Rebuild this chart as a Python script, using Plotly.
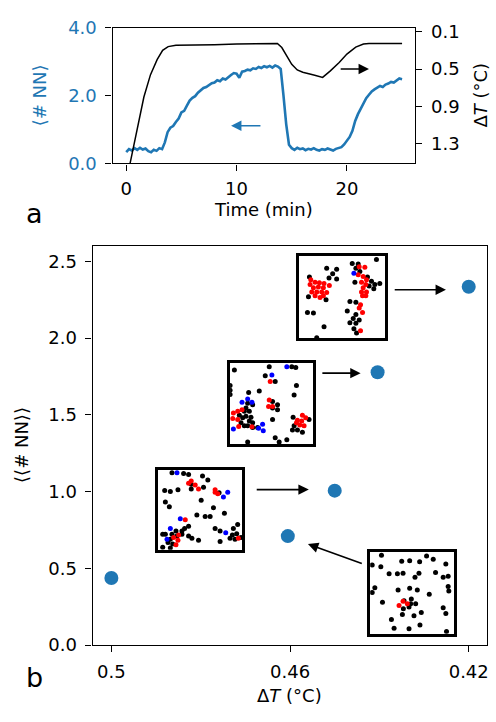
import plotly.graph_objects as go

W, H = 496, 722
BLUE = "#1f77b4"
FONT = "DejaVu Sans"

# ---------------- panel a data ----------------
time_min = [0.0, 0.25, 0.5, 0.75, 1.0, 1.25, 1.5, 1.75, 2.0, 2.25, 2.5, 2.75, 3.0, 3.25, 3.5, 3.75,
            4.0, 4.25, 4.5, 4.75, 5.0, 5.25, 5.5, 5.75, 6.0, 6.25, 6.5, 6.75, 7.0, 7.25, 7.5, 7.75,
            8.0, 8.25, 8.5, 8.75, 9.0, 9.25, 9.5, 9.75, 10.0, 10.25, 10.5, 10.75, 11.0, 11.25, 11.5,
            11.75, 12.0, 12.25, 12.5, 12.75, 13.0, 13.25, 13.5, 13.75, 14.0, 14.25, 14.5, 14.75,
            15.0, 15.25, 15.5, 15.75, 16.0, 16.25, 16.5, 16.75, 17.0, 17.25, 17.5, 17.75, 18.0,
            18.25, 18.5, 18.75, 19.0, 19.25, 19.5, 19.75, 20.0, 20.25, 20.5, 20.75, 21.0, 21.25,
            21.5, 21.75, 22.0, 22.25, 22.5, 22.75, 23.0, 23.25, 23.5, 23.75, 24.0, 24.25, 24.5,
            24.75, 25.0]
nn_mean = [0.33, 0.42, 0.38, 0.45, 0.40, 0.46, 0.41, 0.44, 0.36, 0.33, 0.40, 0.37, 0.45, 0.42, 0.62,
           0.92, 1.05, 1.10, 1.22, 1.32, 1.50, 1.55, 1.70, 1.85, 1.93, 1.98, 2.08, 2.15, 2.22, 2.25,
           2.30, 2.36, 2.38, 2.45, 2.42, 2.50, 2.47, 2.55, 2.60, 2.66, 2.64, 2.52, 2.70, 2.72, 2.76,
           2.74, 2.80, 2.78, 2.84, 2.81, 2.86, 2.83, 2.87, 2.82, 2.88, 2.85, 2.78, 2.00, 1.15, 0.55,
           0.45, 0.40, 0.46, 0.42, 0.44, 0.39, 0.43, 0.41, 0.45, 0.40, 0.38, 0.42, 0.40, 0.44, 0.41,
           0.38, 0.43, 0.45, 0.48, 0.56, 0.66, 0.78, 0.96, 1.25, 1.45, 1.62, 1.76, 1.92, 2.02, 2.12,
           2.18, 2.22, 2.28, 2.25, 2.32, 2.35, 2.40, 2.38, 2.45, 2.50, 2.48]

dT_time = [0.35, 1.0, 1.6, 2.2, 2.8, 3.3, 3.8, 4.5, 6.0, 8.0, 10.0, 12.0, 13.7, 14.1, 14.5, 15.0,
           15.5, 16.0, 17.0, 17.8, 18.5, 19.3, 20.0, 20.8, 21.5, 22.0, 25.0]
dT_value = [1.51, 1.13, 0.80, 0.56, 0.40, 0.30, 0.26, 0.245, 0.245, 0.24, 0.232, 0.226, 0.226, 0.27,
            0.35, 0.45, 0.51, 0.535, 0.565, 0.59, 0.52, 0.43, 0.34, 0.265, 0.232, 0.226, 0.226]

time_ticks = [0, 10, 20]
nn_ticks = [0.0, 2.0, 4.0]
dT_ticks = [0.1, 0.5, 0.9, 1.3]

# ---------------- panel b data ----------------
b_dT = [0.5, 0.4605, 0.450, 0.4404, 0.420]
b_nn = [0.437, 0.71, 1.006, 1.778, 2.335]
b_xticks = [0.5, 0.46, 0.42]
b_xticklabels = ["0.5", "0.46", "0.42"]
b_yticks = [0.0, 0.5, 1.0, 1.5, 2.0, 2.5]

# ---------------- inset particle configurations (image coords) ----------------
inset1_black = [(240, 18), (90, 45), (120, 48), (108, 62), (97, 75), (120, 78), (38, 72), (35, 133),
                (88, 142), (167, 30), (185, 32), (178, 45), (190, 55), (175, 88), (213, 72), (225, 85),
                (235, 95), (250, 92), (218, 100), (232, 108), (160, 148), (178, 150), (152, 177),
                (178, 188), (170, 200), (188, 205), (178, 215), (160, 213), (172, 232), (180, 245),
                (32, 182), (50, 183), (82, 226), (60, 260)]
inset1_red = [(42, 80), (40, 95), (55, 88), (68, 90), (82, 92), (98, 98), (50, 105), (65, 103),
              (80, 105), (45, 118), (60, 118), (75, 118), (90, 120), (55, 130), (70, 135), (80, 130),
              (188, 40), (205, 42), (185, 65), (200, 70), (210, 80), (195, 88), (208, 95), (200, 105),
              (195, 118), (210, 118), (198, 130), (208, 130), (192, 158), (198, 182), (188, 168),
              (192, 238)]
inset1_blue = [(172, 60)]

inset2_black = [(25, 32), (130, 22), (198, 22), (210, 25), (12, 80), (12, 95), (12, 108), (68, 102),
                (100, 97), (212, 80), (205, 110), (118, 50), (148, 68), (140, 130), (155, 140),
                (140, 150), (155, 155), (80, 140), (65, 135), (60, 150), (55, 160), (70, 160),
                (40, 172), (60, 175), (75, 178), (70, 190), (45, 195), (55, 205), (80, 195), (50, 180),
                (65, 205), (80, 210), (95, 210), (140, 185), (202, 178), (250, 185), (205, 205),
                (200, 218), (215, 218), (230, 225), (148, 242), (160, 255), (183, 248), (65, 255)]
inset2_red = [(133, 68), (130, 125), (128, 145), (140, 145), (22, 165), (35, 160), (48, 155),
              (20, 182), (35, 185), (38, 207), (78, 208), (230, 172), (240, 180), (215, 188),
              (228, 190), (222, 202), (235, 205), (212, 195)]
inset2_blue = [(183, 22), (138, 48), (48, 132), (65, 122), (78, 132), (22, 215), (110, 200), (98, 212),
               (112, 220)]

inset3_black = [(50, 20), (85, 22), (100, 25), (142, 30), (158, 42), (145, 65), (108, 55), (108, 70),
                (28, 75), (45, 78), (68, 72), (30, 110), (42, 125), (138, 105), (192, 82), (175, 128),
                (208, 145), (125, 150), (150, 155), (165, 155), (180, 192), (195, 200), (130, 228),
                (195, 232), (100, 185), (88, 192), (80, 200), (62, 200), (50, 210), (65, 215),
                (80, 210), (100, 215), (110, 222), (45, 225), (30, 210), (22, 210), (38, 235),
                (52, 240), (22, 250), (45, 252), (248, 180), (235, 192), (245, 208), (232, 212),
                (225, 222), (240, 225), (258, 220)]
inset3_red = [(108, 45), (120, 58), (100, 52), (130, 70), (180, 72), (188, 85), (180, 80), (90, 165),
              (70, 212), (68, 228), (62, 242), (55, 220), (250, 222)]
inset3_blue = [(65, 20), (218, 80), (205, 95), (75, 162), (45, 192), (35, 225), (212, 205)]

inset4_black = [(42, 20), (178, 22), (198, 32), (103, 38), (127, 37), (157, 40), (236, 47), (14, 50),
                (40, 55), (65, 77), (90, 77), (107, 75), (155, 75), (143, 88), (205, 73), (228, 88),
                (243, 85), (22, 120), (14, 135), (92, 127), (127, 122), (150, 127), (186, 140),
                (243, 116), (245, 130), (132, 155), (110, 160), (130, 170), (145, 170), (108, 185),
                (125, 180), (45, 165), (228, 182), (236, 200), (162, 197), (140, 207), (105, 203),
                (72, 218), (158, 235), (125, 247), (80, 245), (238, 255)]
inset4_red = [(95, 175), (107, 162), (120, 170)]
inset4_blue = []

insets = [
    (inset1_black, inset1_red, inset1_blue, (300.7, 386.3, 252.7, 337.3), (8, 265, 8, 262)),
    (inset2_black, inset2_red, inset2_blue, (231.0, 314.3, 362.3, 446.3), (12, 262, 10, 262)),
    (inset3_black, inset3_red, inset3_blue, (158.7, 243.3, 472.3, 555.0), (8, 262, 10, 258)),
    (inset4_black, inset4_red, inset4_blue, (371.7, 456.3, 557.3, 641.3), (8, 262, 10, 262)),
]


def px_dom_x(a, b):
    return [a / W, b / W]


def px_dom_y(top, bottom):
    return [1 - bottom / H, 1 - top / H]


fig = go.Figure()

fig.add_trace(go.Scatter(x=dT_time, y=dT_value, mode="lines", line=dict(color="black", width=1.5),
                         xaxis="x", yaxis="y2", showlegend=False))
fig.add_trace(go.Scatter(x=time_min, y=nn_mean, mode="lines", line=dict(color=BLUE, width=2.6),
                         xaxis="x", yaxis="y", showlegend=False))
fig.add_trace(go.Scatter(x=b_dT, y=b_nn, mode="markers", marker=dict(color=BLUE, size=14),
                         xaxis="x2", yaxis="y3", showlegend=False))

axis_common = dict(showline=True, linecolor="black", linewidth=1.3, mirror=True, ticks="outside",
                   ticklen=6, tickwidth=1.3, tickcolor="black", showgrid=False, zeroline=False,
                   tickfont=dict(family=FONT, size=18, color="black"))

layout = dict(
    width=W, height=H, margin=dict(l=0, r=0, t=0, b=0),
    paper_bgcolor="white", plot_bgcolor="white", showlegend=False,
    font=dict(family=FONT, size=18, color="black"),
    xaxis=dict(axis_common, domain=px_dom_x(113, 417), anchor="y", range=[-1.24, 26.2],
               tickvals=time_ticks, ticklabelstandoff=3),
    yaxis=dict(axis_common, domain=px_dom_y(17, 157), anchor="x", range=[0, 4],
               tickvals=nn_ticks, ticktext=["%.1f" % v for v in nn_ticks], ticklabelstandoff=5,
               tickfont=dict(family=FONT, size=18, color=BLUE)),
    yaxis2=dict(axis_common, overlaying="y", side="right", anchor="x", range=[1.511, 0.0553],
                tickvals=dT_ticks, ticktext=["%.1f" % v for v in dT_ticks], mirror=False,
                ticklabelstandoff=5),
    xaxis2=dict(axis_common, domain=px_dom_x(93, 489), anchor="y3", range=[0.5042, 0.4159],
                tickvals=b_xticks, ticktext=b_xticklabels, ticklabelstandoff=4),
    yaxis3=dict(axis_common, domain=px_dom_y(242, 653), anchor="x2", range=[0, 2.601],
                tickvals=b_yticks, ticktext=["%.1f" % v for v in b_yticks], ticklabelstandoff=5),
)

for i, (blk, red, blu, box, rng) in enumerate(insets):
    xa = "xaxis%d" % (i + 3)
    ya = "yaxis%d" % (i + 4)
    xr = "x%d" % (i + 3)
    yr = "y%d" % (i + 4)
    layout[xa] = dict(domain=px_dom_x(box[0], box[1]), anchor=yr, range=[rng[0], rng[1]],
                      showline=True, mirror=True, linecolor="black", linewidth=3,
                      showticklabels=False, ticks="", showgrid=False, zeroline=False)
    layout[ya] = dict(domain=px_dom_y(box[2], box[3]), anchor=xr, range=[rng[3], rng[2]],
                      showline=True, mirror=True, linecolor="black", linewidth=3,
                      showticklabels=False, ticks="", showgrid=False, zeroline=False)
    for pts, col in ((blk, "black"), (red, "red"), (blu, "blue")):
        if not pts:
            continue
        fig.add_trace(go.Scatter(x=[p[0] for p in pts], y=[p[1] for p in pts], mode="markers",
                                 marker=dict(color=col, size=5), xaxis=xr, yaxis=yr,
                                 showlegend=False, cliponaxis=True))

fig.update_layout(**layout)


def label(text, px, py, size=18, color="black", angle=0):
    return dict(text=text, x=px / W, y=1 - py / H, xref="paper", yref="paper",
                xanchor="center", yanchor="middle", textangle=angle, showarrow=False,
                font=dict(family=FONT, size=size, color=color))


ann = [
    label("⟨# NN⟩", 40, 87, color=BLUE, angle=-90),
    label("Δ<i>T</i> (°C)", 482, 87, angle=-90),
    label("Time (min)", 265, 204),
    label("a", 35, 209, size=27),
    label("⟨⟨# NN⟩⟩", 22, 447, angle=-90),
    label("Δ<i>T</i> (°C)", 291, 705),
    label("b", 35, 686, size=27),
]

ann.append(dict(x=22.0, y=0.5, ax=19.3, ay=0.5, xref="x", yref="y2", axref="x", ayref="y2",
                showarrow=True, arrowhead=2, arrowsize=1.3, arrowwidth=1.6, arrowcolor="black", text=""))
ann.append(dict(x=9.5, y=1.11, ax=12.3, ay=1.11, xref="x", yref="y", axref="x", ayref="y",
                showarrow=True, arrowhead=2, arrowsize=1.3, arrowwidth=1.6, arrowcolor=BLUE, text=""))
for (hx, hy, tx, ty) in [(0.4251, 2.316, 0.4369, 2.316), (0.4442, 1.772, 0.4531, 1.772),
                         (0.4558, 1.013, 0.4678, 1.013), (0.4560, 0.658, 0.4436, 0.528)]:
    ann.append(dict(x=hx, y=hy, ax=tx, ay=ty, xref="x2", yref="y3", axref="x2", ayref="y3",
                    showarrow=True, arrowhead=2, arrowsize=1.3, arrowwidth=1.6, arrowcolor="black",
                    text=""))

fig.update_layout(annotations=ann)
fig.write_html("out.html", post_script="document.body.style.margin='0px';",
               config={"displayModeBar": False})
